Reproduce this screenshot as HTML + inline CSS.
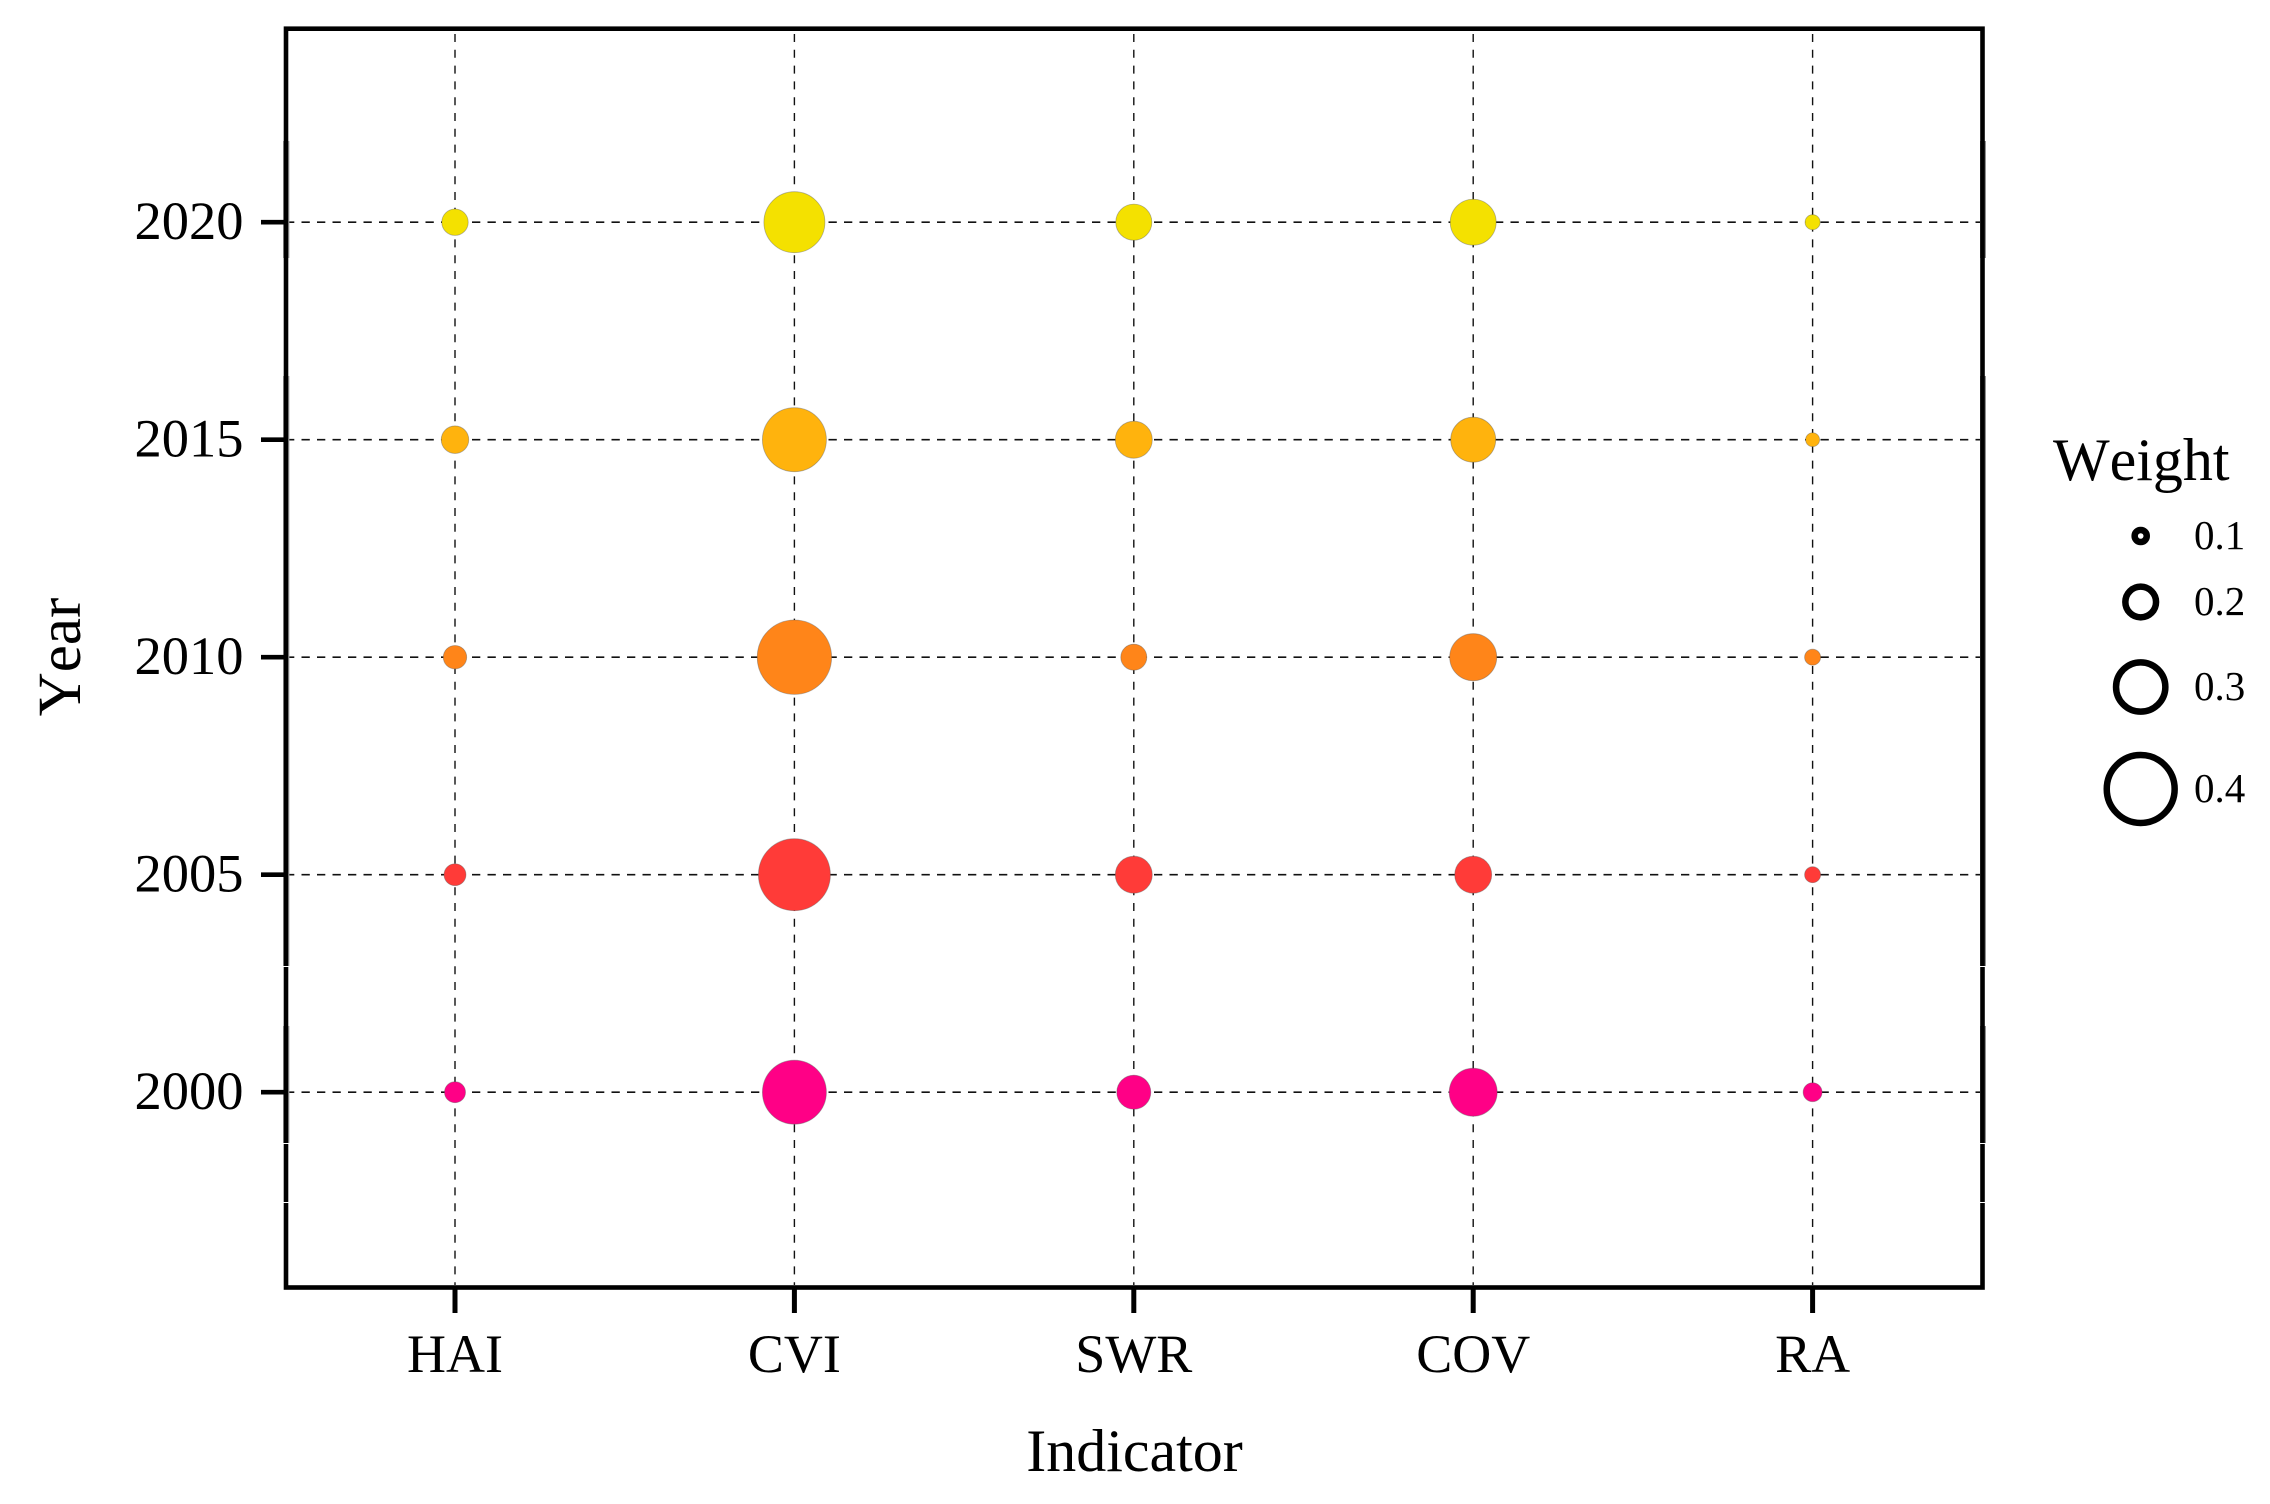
<!DOCTYPE html>
<html lang="en">
<head>
<meta charset="utf-8">
<title>Indicator weight by year</title>
<style>
html,body{margin:0;padding:0;background:#fff;width:2270px;height:1504px;overflow:hidden}
svg{display:block}
text{font-family:"Liberation Serif","Times New Roman",serif;fill:#000;font-kerning:none}
</style>
</head>
<body>
<svg id="chart" xmlns="http://www.w3.org/2000/svg" width="2270" height="1504" viewBox="0 0 2270 1504">
  <rect x="0" y="0" width="2270" height="1504" fill="#ffffff"/>
  <g id="grid"></g>
  <g id="marks"></g>
  <g fill="#a8a8a8">
    <rect x="283" y="141" width="6.4" height="117"/>
    <rect x="283" y="376" width="6.4" height="590"/>
    <rect x="283" y="1026" width="6.4" height="117"/>
    <rect x="1980" y="141" width="5.8" height="117" fill="#777"/>
    <rect x="1980" y="376" width="5.8" height="590" fill="#777"/>
    <rect x="1980" y="1026" width="5.8" height="117" fill="#777"/>
  </g>
  <rect x="286" y="28.7" width="1696.5" height="1258.8" fill="none" stroke="#000" stroke-width="4.6"/>
  <g fill="#fff">
    <rect x="283" y="966" width="6.5" height="1"/>
    <rect x="283" y="1143" width="6.5" height="1"/>
    <rect x="283" y="1202" width="6.5" height="1"/>
    <rect x="1979" y="966" width="7" height="1"/>
    <rect x="1979" y="1143" width="7" height="1"/>
    <rect x="1979" y="1202" width="7" height="1"/>
  </g>
  <g id="xticks"></g>
  <g id="yticks"></g>
  <text x="1134.5" y="1471" font-size="60" text-anchor="middle">Indicator</text>
  <text transform="translate(80 657) rotate(-90)" font-size="61" text-anchor="middle">Year</text>
  <g id="legend">
    <text x="2053" y="480" font-size="60">Weight</text>
  </g>
</svg>
<script>
const indicators = ['HAI', 'CVI', 'SWR', 'COV', 'RA'];
const years = [2000, 2005, 2010, 2015, 2020];
const colors2000to2020 = ['#ff0086', '#ff3b38', '#ff8519', '#ffb30d', '#f4e100'];
const weightsHAI = [0.113, 0.118, 0.126, 0.148, 0.142];
const weightsCVI = [0.344, 0.387, 0.400, 0.344, 0.328];
const weightsSWR = [0.183, 0.199, 0.140, 0.199, 0.194];
const weightsCOV = [0.258, 0.199, 0.253, 0.242, 0.247];
const weightsRA = [0.102, 0.086, 0.086, 0.075, 0.081];
const legendWeights = [0.1, 0.2, 0.3, 0.4];
const legendLabels = ['0.1', '0.2', '0.3', '0.4'];

const NS = 'http://www.w3.org/2000/svg';
const series = [weightsHAI, weightsCVI, weightsSWR, weightsCOV, weightsRA];

function xScale(i) { return 455 + i * 339.4; }
function yScale(year) { return 1092.2 - (year - 2000) * 43.5; }
function diameter(w) { return w * 186; }

function make(tag, parent, props) {
  const el = document.createElementNS(NS, tag);
  for (const k in props) el.setAttribute(k, props[k]);
  parent.appendChild(el);
  return el;
}

const grid = document.getElementById('grid');
const marks = document.getElementById('marks');
const xticks = document.getElementById('xticks');
const yticks = document.getElementById('yticks');
const legend = document.getElementById('legend');

indicators.forEach(function (name, i) {
  const x = xScale(i);
  const line = make('line', grid, { x1: x, x2: x, y1: 31, y2: 1285, stroke: '#111', 'stroke-width': 1.4, 'stroke-dasharray': '8 7.8', 'stroke-dashoffset': 12.8 });
  
  
  const tick = make('line', xticks, { x1: x, x2: x, y1: 1287, y2: 1313, stroke: '#000', 'stroke-width': 5 });
  
  
  const label = make('text', xticks, { x: x, y: 1372, 'font-size': 54, 'text-anchor': 'middle' });
  label.textContent = name;
  
  
});

years.forEach(function (year) {
  const y = yScale(year);
  const line = make('line', grid, { x1: 286, x2: 1981, y1: y, y2: y, stroke: '#111', 'stroke-width': 1.7, 'stroke-dasharray': '8.3 7.2' });
  
  
  const tick = make('line', yticks, { x1: 261, x2: 286, y1: y, y2: y, stroke: '#000', 'stroke-width': 4.7 });
  
  
  const label = make('text', yticks, { x: 243.5, y: y + 17, 'font-size': 54.5, 'text-anchor': 'end' });
  label.textContent = String(year);
  
  
});

series.forEach(function (values, i) {
  values.forEach(function (w, j) {
    const dot = make('circle', marks, {
      cx: xScale(i),
      cy: yScale(years[j]),
      r: diameter(w) / 2,
      fill: colors2000to2020[j],
      stroke: 'rgba(90,90,90,0.45)',
      'stroke-width': 0.8
    });
    
    
  });
});

const legendYs = { 0: 536, 1: 602, 2: 687, 3: 789 };
legendWeights.forEach(function (w, i) {
  const y = legendYs[i];
  const ring = make('circle', legend, {
    cx: 2140.7,
    cy: y,
    r: diameter(w) / 2 - 3.25,
    fill: 'none',
    stroke: '#000',
    'stroke-width': 6.5
  });
  
  
  const label = make('text', legend, { x: 2194, y: y + 13, 'font-size': 41 });
  label.textContent = legendLabels[i];
  
  
});
</script>
</body>
</html>
